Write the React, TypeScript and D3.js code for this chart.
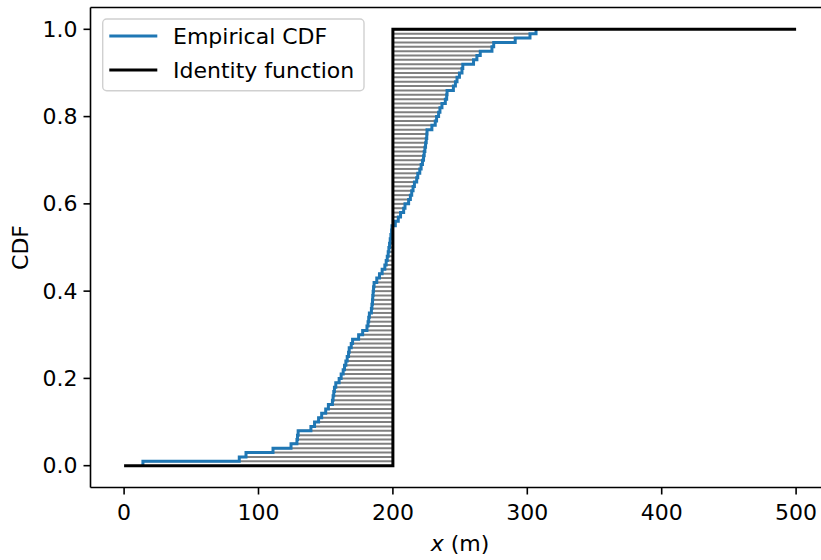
import React from "react";
import * as d3 from "d3";

// Sorted samples (n = 100)
const samples: number[] = [
  14, 85.7, 90.7, 110.8, 124.2, 128.6, 129, 129.5, 139, 141.7,
  144.7, 147, 150, 152, 155, 155.5, 156, 156.5, 157.5, 160,
  161.5, 163, 164, 165, 166, 167, 167.5, 169, 170, 174.5,
  177.5, 180.7, 181.5, 182, 182.5, 184, 184.4, 184.8, 185, 185.3,
  185.6, 186, 188, 190, 192, 194, 195, 195.8, 196.5, 197,
  197.5, 198, 198.5, 199, 199.3, 201.8, 204, 205.7, 208, 209,
  211.7, 213, 214, 215, 216, 217.7, 218.5, 220, 221, 222,
  222.8, 223.3, 223.8, 224.3, 224.8, 225.2, 225.4, 229, 231.5, 232.5,
  234, 235, 236.5, 239, 240, 240.3, 245, 246.5, 247.7, 249.5,
  251.4, 252, 260, 262.5, 265, 273.7, 275, 291, 302, 306.5,
];

// Identity (step) function vertices
const identityX: number[] = [0, 200, 200, 500];
const identityY: number[] = [0, 0, 1, 1];

const threshold = 200;
const xTicks: number[] = [0, 100, 200, 300, 400, 500];
const yTicks: number[] = [0, 0.2, 0.4, 0.6, 0.8, 1.0];
const legendLabels: string[] = ["Empirical CDF", "Identity function"];

const W = 821;
const H = 560;
const FONT = "DejaVu Sans, sans-serif";
const FS = 22;

export default function App() {
  const x = d3.scaleLinear().domain([-25, 525]).range([90.5, 829.7]);
  const y = d3.scaleLinear().domain([-0.05, 1.05]).range([487.5, 7.5]);
  const n = samples.length;

  // ECDF step path
  let ecdf = `M${x(samples[0])},${y(0)}`;
  samples.forEach((s, i) => {
    ecdf += `V${y((i + 1) / n)}`;
    if (i + 1 < n) ecdf += `H${x(samples[i + 1])}`;
  });

  const identLine = d3
    .line<number>()
    .x((_, i) => x(identityX[i]))
    .y((_, i) => y(identityY[i]))(identityX) as string;

  const left = 90.5, top = 7.5, bottom = 487.5;

  return (
    <svg
      width={W}
      height={H}
      style={{ position: "fixed", left: 0, top: 0, background: "#fff" }}
      fontFamily={FONT}
    >
      <rect x={0} y={0} width={W} height={H} fill="#fff" />
      {/* gray connectors */}
      <g stroke="#808080" strokeWidth={2}>
        {samples.map((s, i) => (
          <line
            key={i}
            x1={x(s)}
            x2={x(threshold)}
            y1={y((i + 1) / n)}
            y2={y((i + 1) / n)}
          />
        ))}
      </g>
      <path d={ecdf} fill="none" stroke="#1f77b4" strokeWidth={3} strokeLinejoin="miter" />
      <path d={identLine} fill="none" stroke="#000" strokeWidth={3} />

      {/* spines */}
      <g stroke="#000" strokeWidth={1.6} fill="none">
        <line x1={left} x2={left} y1={top} y2={bottom} />
        <line x1={left} x2={W + 20} y1={top} y2={top} />
        <line x1={left} x2={W + 20} y1={bottom} y2={bottom} />
      </g>

      {/* x ticks */}
      {xTicks.map((t) => (
        <g key={t}>
          <line x1={x(t)} x2={x(t)} y1={bottom} y2={bottom + 7} stroke="#000" strokeWidth={1.6} />
          <text x={x(t)} y={520} textAnchor="middle" fontSize={FS} fill="#000">
            {t}
          </text>
        </g>
      ))}
      {/* y ticks */}
      {yTicks.map((t) => (
        <g key={t}>
          <line x1={left - 7} x2={left} y1={y(t)} y2={y(t)} stroke="#000" strokeWidth={1.6} />
          <text x={left - 13} y={y(t)} textAnchor="end" dominantBaseline="central" fontSize={FS} fill="#000">
            {t.toFixed(1)}
          </text>
        </g>
      ))}

      {/* axis labels */}
      <text x={460} y={551} textAnchor="middle" fontSize={FS} fill="#000">
        <tspan fontStyle="italic">x</tspan> (m)
      </text>
      <text
        transform={`translate(28,${(top + bottom) / 2}) rotate(-90)`}
        textAnchor="middle"
        fontSize={FS}
        fill="#000"
      >
        CDF
      </text>

      {/* legend */}
      <rect x={102.7} y={19} width={261.3} height={71.7} rx={4} fill="#fff" fillOpacity={0.8} stroke="#d0d0d0" strokeWidth={1.4} />
      {legendLabels.map((l, i) => (
        <g key={l}>
          <line
            x1={109.3}
            x2={157.3}
            y1={36 + i * 34}
            y2={36 + i * 34}
            stroke={i === 0 ? "#1f77b4" : "#000"}
            strokeWidth={3}
          />
          <text x={173} y={36 + i * 34} dominantBaseline="central" fontSize={FS} fill="#000">
            {l}
          </text>
        </g>
      ))}
    </svg>
  );
}
